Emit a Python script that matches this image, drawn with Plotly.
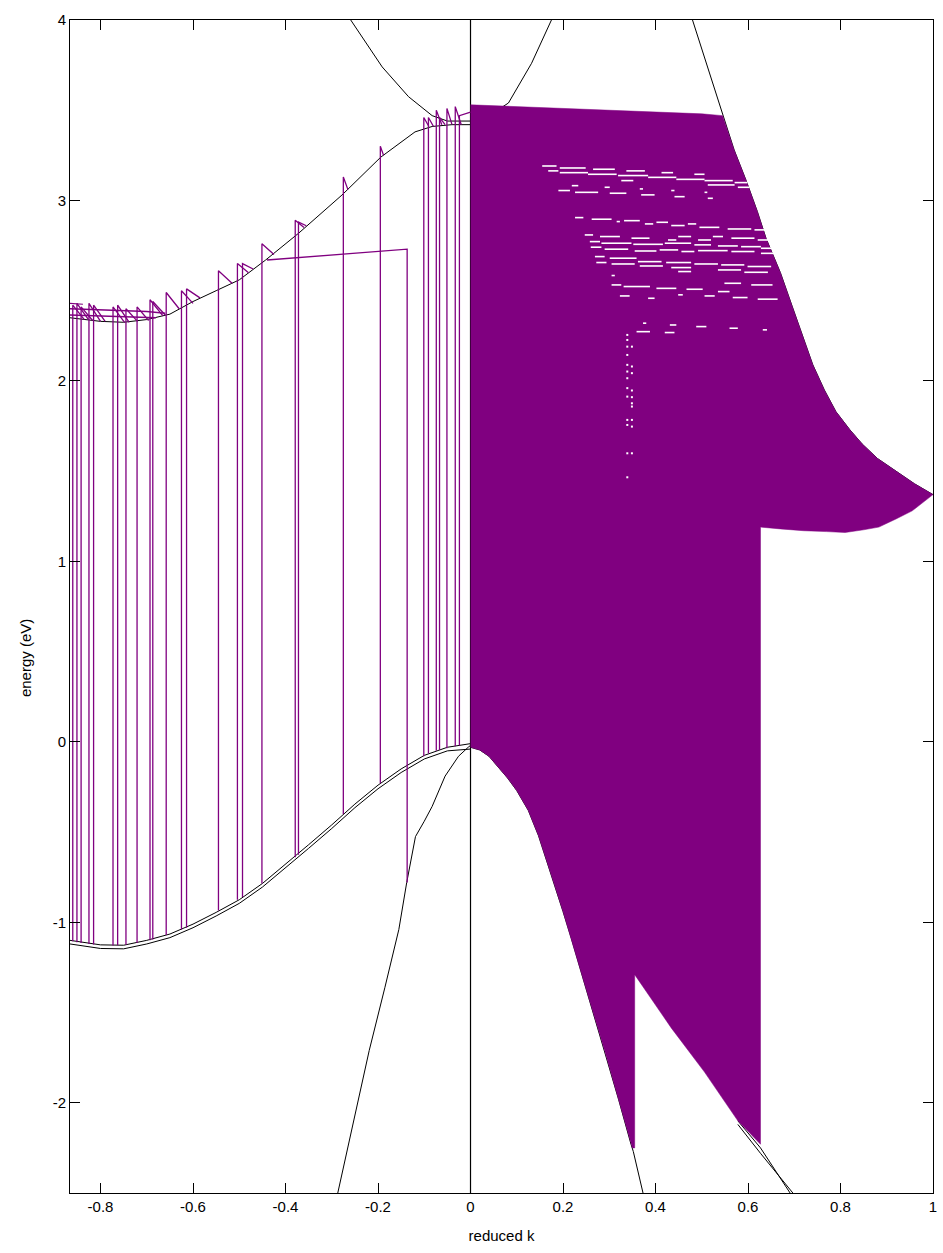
import plotly.graph_objects as go

PURPLE = "#800080"

# ---- axis ticks ----
x_tick_vals = [-0.8, -0.6, -0.4, -0.2, 0, 0.2, 0.4, 0.6, 0.8, 1]
x_tick_text = ["-0.8", "-0.6", "-0.4", "-0.2", "0", "0.2", "0.4", "0.6", "0.8", "1"]
y_tick_vals = [-2, -1, 0, 1, 2, 3, 4]
y_tick_text = ["-2", "-1", "0", "1", "2", "3", "4"]

# ---- bulk bands (black) ----
cb1_k = [-0.866, -0.8, -0.75, -0.7, -0.65, -0.6, -0.55, -0.5, -0.443, -0.371,
         -0.278, -0.194, -0.12, -0.083, -0.04, 0.0]
cb1_E = [2.35, 2.33, 2.325, 2.34, 2.37, 2.44, 2.50, 2.56, 2.67, 2.82,
         3.03, 3.24, 3.38, 3.41, 3.42, 3.42]

cb2_k = [-0.259, -0.191, -0.134, -0.083, -0.05, 0.0, 0.04, 0.082, 0.132, 0.175]
cb2_E = [4.0, 3.74, 3.575, 3.47, 3.44, 3.44, 3.47, 3.54, 3.76, 4.0]

cb3_k = [0.48, 0.545, 0.57, 0.596, 0.62, 0.639, 0.67, 0.696, 0.72, 0.74, 0.765, 0.79,
         0.82, 0.847, 0.88, 0.919, 0.96, 1.0]
cb3_E = [4.0, 3.47, 3.28, 3.11, 2.94, 2.79, 2.60, 2.41, 2.24, 2.09, 1.95, 1.83,
         1.73, 1.65, 1.57, 1.50, 1.43, 1.37]

vb_k = [-0.866, -0.8, -0.75, -0.7, -0.65, -0.6, -0.55, -0.5, -0.45, -0.4,
        -0.35, -0.3, -0.25, -0.2, -0.15, -0.1, -0.05, 0.0]
vb_upper_E = [-1.10, -1.125, -1.127, -1.10, -1.065, -1.01, -0.945, -0.875, -0.785, -0.68,
              -0.57, -0.46, -0.345, -0.24, -0.15, -0.075, -0.03, -0.01]
vb_lower_E = [-1.12, -1.145, -1.147, -1.12, -1.085, -1.03, -0.965, -0.895, -0.805, -0.70,
              -0.59, -0.48, -0.365, -0.26, -0.17, -0.095, -0.05, -0.04]

vb_right_k = [0.0, 0.02, 0.04, 0.06, 0.08, 0.1, 0.125, 0.147, 0.165, 0.18, 0.2, 0.218,
              0.25, 0.29, 0.32, 0.347, 0.352, 0.373]
vb_right_E = [-0.03, -0.045, -0.08, -0.14, -0.2, -0.27, -0.38, -0.52, -0.66, -0.78, -0.94, -1.09,
              -1.37, -1.71, -1.98, -2.23, -2.27, -2.5]

hh_k = [-0.287, -0.255, -0.219, -0.185, -0.155, -0.138, -0.119, -0.1, -0.083, -0.055,
        -0.026, -0.005, 0.0]
hh_E = [-2.5, -2.13, -1.71, -1.36, -1.04, -0.78, -0.525, -0.44, -0.358, -0.19,
        -0.08, -0.03, -0.02]

so_a_k = [0.578, 0.627, 0.691]
so_a_E = [-2.10, -2.25, -2.5]
so_b_k = [0.578, 0.627, 0.697]
so_b_E = [-2.12, -2.28, -2.5]

# ---- surface states, k < 0 (purple jumps between bands) ----
jump_k = [-0.860, -0.851, -0.842, -0.825, -0.815, -0.773, -0.763, -0.745, -0.721, -0.693,
          -0.687, -0.658, -0.625, -0.614, -0.545, -0.504, -0.493, -0.451, -0.379, -0.372,
          -0.275, -0.195, -0.137, -0.101, -0.091, -0.074, -0.067, -0.051, -0.033, -0.024]
jump_bottom = [-1.105, -1.11, -1.115, -1.12, -1.123, -1.128, -1.127, -1.124, -1.115, -1.10,
               -1.095, -1.07, -1.04, -1.03, -0.935, -0.875, -0.86, -0.785, -0.64, -0.625,
               -0.40, -0.23, -0.78, -0.08, -0.065, -0.05, -0.045, -0.035, -0.025, -0.02]
jump_top = [2.42, 2.43, 2.41, 2.43, 2.42, 2.41, 2.42, 2.40, 2.41, 2.45,
            2.44, 2.49, 2.50, 2.51, 2.61, 2.65, 2.65, 2.76, 2.89, 2.88,
            3.13, 3.30, 2.73, 3.46, 3.46, 3.50, 3.46, 3.51, 3.52, 3.47]
return_k = [-0.835, -0.826, -0.817, -0.80, -0.79, -0.748, -0.738, -0.72, -0.696, -0.665,
            -0.66, -0.63, -0.60, -0.585, -0.515, -0.48, -0.47, -0.425, -0.36, -0.355,
            -0.265, -0.188, -0.44, -0.09, -0.08, -0.062, -0.055, -0.04, -0.02, 0.0]
return_E = [2.34, 2.34, 2.335, 2.33, 2.33, 2.325, 2.325, 2.33, 2.335, 2.36,
            2.365, 2.40, 2.43, 2.46, 2.54, 2.60, 2.62, 2.70, 2.85, 2.86,
            3.06, 3.25, 2.67, 3.41, 3.41, 3.42, 3.42, 3.42, 3.42, 3.49]

edge_a_k = [-0.866, -0.80, -0.75, -0.70, -0.66]
edge_a_E = [2.40, 2.395, 2.39, 2.385, 2.375]
edge_b_k = [-0.866, -0.80, -0.75, -0.70, -0.68]
edge_b_E = [2.365, 2.36, 2.355, 2.355, 2.35]
edge_c_k = [-0.866, -0.838]
edge_c_E = [2.43, 2.425]

# ---- continuum of states, k > 0 (outline of the filled region) ----
cont_k = [0.0, 0.1, 0.2, 0.3, 0.4, 0.5, 0.545,
          0.57, 0.596, 0.62, 0.639, 0.67, 0.696, 0.72, 0.74, 0.765, 0.79, 0.82, 0.847,
          0.88, 0.919, 0.96, 1.0,
          0.98, 0.955, 0.92, 0.883, 0.85, 0.81, 0.77, 0.72, 0.67, 0.627,
          0.627, 0.578, 0.506, 0.434, 0.355, 0.355, 0.35,
          0.32, 0.29, 0.25, 0.218, 0.2, 0.18, 0.165, 0.147, 0.125, 0.1, 0.08, 0.06,
          0.04, 0.02, 0.0]
cont_E = [3.53, 3.52, 3.51, 3.50, 3.49, 3.48, 3.47,
          3.28, 3.11, 2.94, 2.79, 2.60, 2.41, 2.24, 2.09, 1.95, 1.83, 1.73, 1.65,
          1.57, 1.50, 1.43, 1.37,
          1.33, 1.28, 1.235, 1.19, 1.175, 1.16, 1.165, 1.17, 1.18, 1.19,
          -2.23, -2.10, -1.83, -1.585, -1.29, -2.25, -2.25,
          -1.98, -1.71, -1.37, -1.09, -0.94, -0.78, -0.66, -0.52, -0.38, -0.27, -0.2, -0.14,
          -0.08, -0.045, -0.03]

# gaps in the continuum (segments with no states)
gap_k0 = [0.155, 0.193, 0.168, 0.193, 0.265, 0.254, 0.337, 0.319, 0.413, 0.384, 0.484, 0.445,
          0.506, 0.513, 0.571, 0.578,
          0.190, 0.226, 0.219, 0.290, 0.301, 0.326, 0.366, 0.369, 0.434, 0.441, 0.506, 0.513,
          0.226, 0.262, 0.316, 0.332, 0.377, 0.402, 0.434, 0.470, 0.495, 0.556, 0.614,
          0.247, 0.280, 0.348, 0.427, 0.449, 0.492, 0.524, 0.564, 0.621,
          0.258, 0.283, 0.352, 0.420, 0.484, 0.535, 0.585, 0.628,
          0.260, 0.290, 0.355, 0.409, 0.456, 0.492, 0.564, 0.628,
          0.269, 0.301, 0.362, 0.423, 0.484, 0.542, 0.599,
          0.272, 0.305, 0.366, 0.434, 0.449, 0.535, 0.592,
          0.305, 0.305, 0.331, 0.402, 0.467, 0.535, 0.549, 0.607,
          0.323, 0.384, 0.449, 0.506, 0.567, 0.621,
          0.359, 0.373, 0.420, 0.431, 0.488, 0.560, 0.632]
gap_k1 = [0.186, 0.249, 0.190, 0.254, 0.312, 0.316, 0.377, 0.384, 0.438, 0.445, 0.506, 0.506,
          0.567, 0.571, 0.599, 0.603,
          0.215, 0.276, 0.233, 0.301, 0.337, 0.352, 0.373, 0.398, 0.441, 0.463, 0.512, 0.524,
          0.244, 0.305, 0.323, 0.366, 0.395, 0.427, 0.463, 0.488, 0.538, 0.607, 0.640,
          0.265, 0.323, 0.387, 0.445, 0.477, 0.520, 0.546, 0.614, 0.646,
          0.280, 0.348, 0.416, 0.477, 0.520, 0.578, 0.628, 0.657,
          0.283, 0.341, 0.402, 0.449, 0.484, 0.556, 0.614, 0.664,
          0.290, 0.359, 0.413, 0.477, 0.535, 0.592, 0.650,
          0.294, 0.355, 0.416, 0.477, 0.477, 0.585, 0.643,
          0.312, 0.326, 0.388, 0.445, 0.502, 0.560, 0.585, 0.653,
          0.344, 0.398, 0.459, 0.528, 0.599, 0.664,
          0.388, 0.380, 0.441, 0.445, 0.510, 0.578, 0.641]
gap_E = [3.191, 3.180, 3.164, 3.154, 3.173, 3.145, 3.164, 3.138, 3.154, 3.128, 3.145, 3.117,
         3.110, 3.086, 3.099, 3.073,
         3.055, 3.045, 3.082, 3.073, 3.040, 3.110, 3.064, 3.031, 3.055, 3.021, 3.045, 3.012,
         2.905, 2.896, 2.883, 2.888, 2.870, 2.879, 2.861, 2.870, 2.851, 2.842, 2.837,
         2.809, 2.800, 2.791, 2.781, 2.800, 2.781, 2.800, 2.791, 2.781,
         2.772, 2.763, 2.757, 2.763, 2.754, 2.748, 2.744, 2.735,
         2.741, 2.730, 2.720, 2.726, 2.717, 2.722, 2.717, 2.707,
         2.689, 2.680, 2.661, 2.656, 2.648, 2.643, 2.634,
         2.656, 2.648, 2.637, 2.628, 2.606, 2.615, 2.602,
         2.584, 2.532, 2.523, 2.513, 2.508, 2.495, 2.541, 2.532,
         2.471, 2.458, 2.477, 2.471, 2.462, 2.453,
         2.273, 2.320, 2.268, 2.310, 2.301, 2.292, 2.283]

# isolated missing points
hole_k = [0.339, 0.339, 0.339, 0.349, 0.339, 0.339, 0.349, 0.339, 0.349, 0.339, 0.339,
          0.349, 0.339, 0.349, 0.349, 0.349, 0.339, 0.349, 0.339, 0.349, 0.339, 0.349, 0.339]
hole_E = [2.255, 2.227, 2.190, 2.190, 2.144, 2.089, 2.080, 2.052, 2.043, 2.015, 1.960,
          1.947, 1.913, 1.910, 1.876, 1.858, 1.784, 1.784, 1.756, 1.747, 1.599, 1.599, 1.466]

fig = go.Figure()


def add_path(xs, ys, color="black", width=1.0):
    fig.add_trace(go.Scatter(x=xs, y=ys, mode="lines",
                             line=dict(color=color, width=width),
                             hoverinfo="skip", showlegend=False))


# black bands (drawn first so the continuum covers them)
add_path([0, 0], [-2.5, 4], "black", 1.2)
add_path(cb1_k, cb1_E)
add_path(cb2_k, cb2_E)
add_path(cb3_k, cb3_E)
add_path(vb_k, vb_upper_E)
add_path(vb_k, vb_lower_E)
add_path(vb_right_k, vb_right_E)
add_path(hh_k, hh_E)
add_path(so_a_k, so_a_E)
add_path(so_b_k, so_b_E)

# purple jumps for k < 0
jx, jy = [], []
for k, b, t, rk, rE in zip(jump_k, jump_bottom, jump_top, return_k, return_E):
    jx += [k, k, rk, None]
    jy += [b, t, rE, None]
add_path(jx, jy, PURPLE, 1.3)
add_path(edge_a_k, edge_a_E, PURPLE, 1.4)
add_path(edge_b_k, edge_b_E, PURPLE, 1.4)
add_path(edge_c_k, edge_c_E, PURPLE, 1.2)

# continuum for k > 0
fig.add_trace(go.Scatter(x=cont_k, y=cont_E, mode="lines", fill="toself",
                         fillcolor=PURPLE, line=dict(color=PURPLE, width=0.5),
                         hoverinfo="skip", showlegend=False))

# gaps inside the continuum
gx, gy = [], []
for a, b, e in zip(gap_k0, gap_k1, gap_E):
    gx += [a, b, None]
    gy += [e, e, None]
add_path(gx, gy, "white", 1.6)
fig.add_trace(go.Scatter(x=hole_k, y=hole_E, mode="markers",
                         marker=dict(color="white", size=2, symbol="square", line=dict(width=0)),
                         hoverinfo="skip", showlegend=False))

axis_font = dict(family="Liberation Sans, Arial, sans-serif", size=15, color="black")

fig.update_layout(
    width=943, height=1253,
    margin=dict(l=70, r=6, t=20, b=60),
    paper_bgcolor="white", plot_bgcolor="white",
    font=axis_font,
    showlegend=False,
    xaxis=dict(range=[-0.866, 1], tickvals=x_tick_vals, ticktext=x_tick_text,
               ticks="inside", ticklen=10, tickcolor="black", tickwidth=1,
               showline=True, linecolor="black", linewidth=1, mirror="ticks",
               showgrid=False, zeroline=False, tickfont=axis_font,
               title=dict(text="reduced k", font=axis_font, standoff=16)),
    yaxis=dict(range=[-2.5, 4], tickvals=y_tick_vals, ticktext=y_tick_text,
               ticks="inside", ticklen=10, tickcolor="black", tickwidth=1,
               showline=True, linecolor="black", linewidth=1, mirror="ticks",
               showgrid=False, zeroline=False, tickfont=axis_font),
    annotations=[dict(text="energy (eV)", textangle=-90, font=axis_font,
                      xref="paper", yref="paper", x=-0.04, y=0.456,
                      xanchor="right", yanchor="middle", showarrow=False)],
)

fig.write_html("out.html")
